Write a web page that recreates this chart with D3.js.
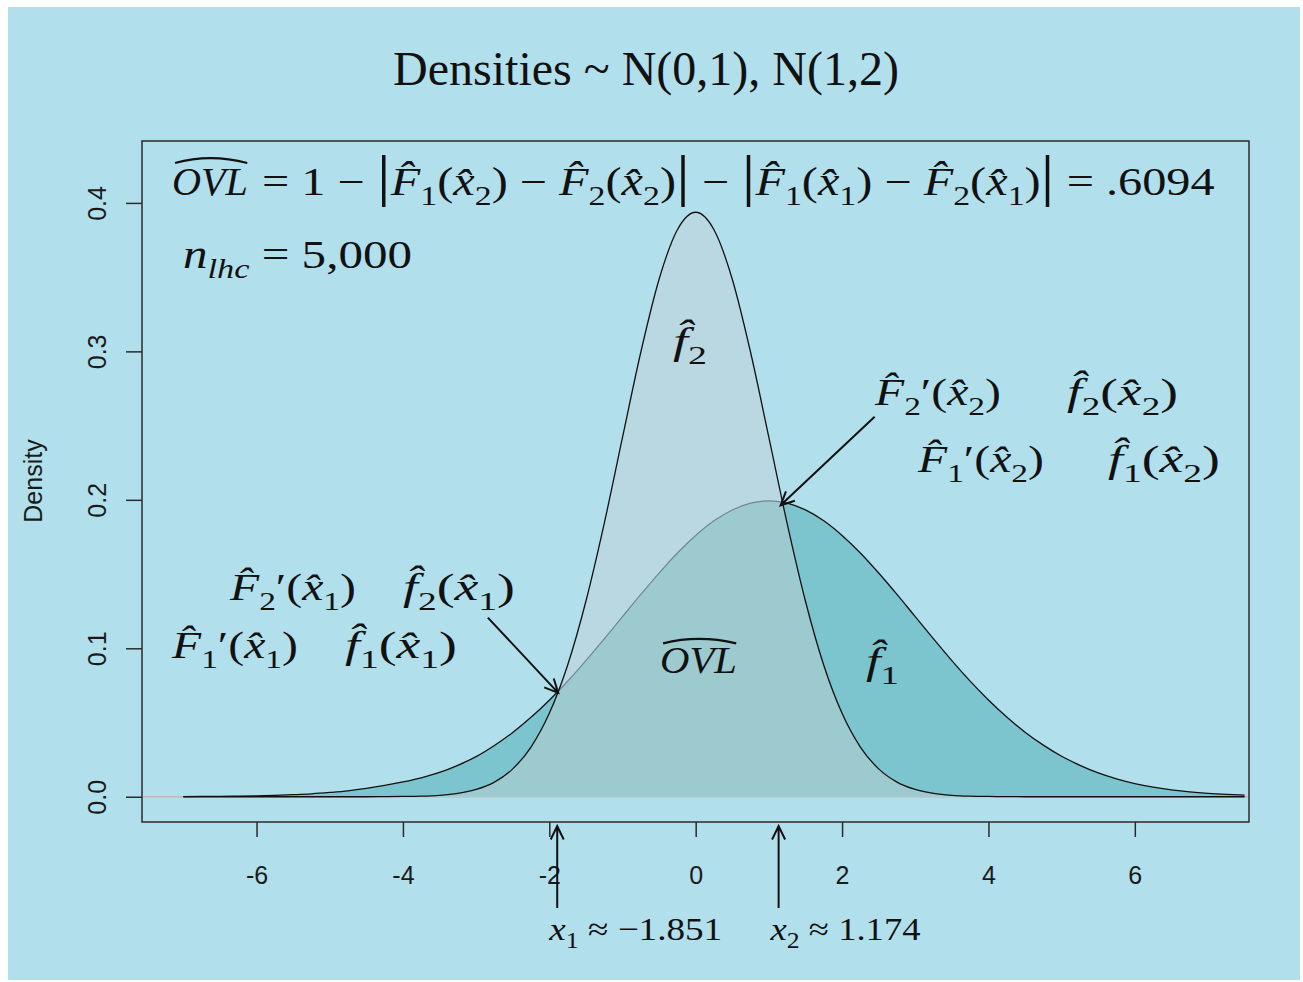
<!DOCTYPE html>
<html>
<head>
<meta charset="utf-8">
<script src="https://cdn.jsdelivr.net/npm/d3@7"></script>
<style>
  body { margin: 0; background: #fff; }
  svg { display: block; }
  text { white-space: pre; }
</style>
</head>
<body>
<div class="chart"></div>
<script>
var width = 1303;
var height = 982;

// evaluation grid for both density estimates
var gridX = [-7, -6.75, -6.5, -6.25, -6, -5.75, -5.5, -5.25, -5, -4.75, -4.5, -4.25,
             -4, -3.75, -3.5, -3.25, -3, -2.75, -2.5, -2.25, -2, -1.75, -1.5, -1.25,
             -1, -0.75, -0.5, -0.25, 0, 0.25, 0.5, 0.75, 1, 1.25, 1.5, 1.75,
             2, 2.25, 2.5, 2.75, 3, 3.25, 3.5, 3.75, 4, 4.25, 4.5, 4.75,
             5, 5.25, 5.5, 5.75, 6, 6.25, 6.5, 6.75, 7, 7.25, 7.5];

// f1 hat ~ N(1,2)
var densF1 = [0.0001, 0.0002, 0.0003, 0.0004, 0.0006, 0.0009, 0.0014, 0.0020, 0.0029, 0.0040, 0.0056, 0.0076,
              0.0100, 0.0128, 0.0164, 0.0212, 0.0270, 0.0345, 0.0433, 0.0535, 0.0650, 0.0778, 0.0917, 0.1063,
              0.1213, 0.1363, 0.1507, 0.1642, 0.1760, 0.1859, 0.1932, 0.1978, 0.1993, 0.1978, 0.1932, 0.1859,
              0.1760, 0.1642, 0.1507, 0.1363, 0.1213, 0.1063, 0.0917, 0.0779, 0.0652, 0.0537, 0.0435, 0.0348,
              0.0273, 0.0212, 0.0161, 0.0121, 0.0089, 0.0065, 0.0047, 0.0033, 0.0023, 0.0016, 0.0011];

// f2 hat ~ N(0,1)
var densF2 = [0, 0, 0, 0, 0, 0, 0, 0, 0, 0, 0, 0.0001,
              0.0002, 0.0004, 0.0010, 0.0023, 0.0049, 0.0099, 0.0188, 0.0335, 0.0562, 0.0886, 0.1317, 0.1840,
              0.2420, 0.2994, 0.3486, 0.3819, 0.3937, 0.3819, 0.3486, 0.2994, 0.2420, 0.1840, 0.1317, 0.0886,
              0.0562, 0.0335, 0.0188, 0.0099, 0.0049, 0.0023, 0.0010, 0.0004, 0.0002, 0.0001, 0, 0,
              0, 0, 0, 0, 0, 0, 0, 0, 0, 0, 0];

var xTicks = [-6, -4, -2, 0, 2, 4, 6];
var yTicks = [0, 0.1, 0.2, 0.3, 0.4];

var crossX = [-1.851, 1.174];
var crossY = [0.072, 0.199];
var crossText = ["\u22121.851", "1.174"];

var margin = {top: 141, right: 54, bottom: 160, left: 142};

var svg = d3.select(".chart")
    .append("svg")
    .attr("width", width)
    .attr("height", height);

svg.append("rect")
    .attr("x", 8).attr("y", 7)
    .attr("width", 1292).attr("height", 973)
    .attr("fill", "#b1dfec");

var x = d3.scaleLinear().domain([-7.565, 7.56]).range([margin.left, width - margin.right]);
var y = d3.scaleLinear().domain([-0.017, 0.4417]).range([height - margin.bottom, margin.top]);

var pts = gridX.map(function(v, i) { return {x: v, f1: densF1[i], f2: densF2[i]}; });

svg.append("clipPath").attr("id", "plotclip")
  .append("rect")
    .attr("x", margin.left).attr("y", margin.top)
    .attr("width", width - margin.left - margin.right)
    .attr("height", height - margin.top - margin.bottom);

var areaF1 = d3.area().x(d => x(d.x)).y0(y(0)).y1(d => y(d.f1)).curve(d3.curveMonotoneX);
var areaF2 = d3.area().x(d => x(d.x)).y0(y(0)).y1(d => y(d.f2)).curve(d3.curveMonotoneX);
var lineF1 = d3.line().x(d => x(d.x)).y(d => y(d.f1)).curve(d3.curveMonotoneX);
var lineF2 = d3.line().x(d => x(d.x)).y(d => y(d.f2)).curve(d3.curveMonotoneX);

var defs = svg.append("defs");
defs.append("clipPath").attr("id", "f1clip").append("path").attr("d", areaF1(pts));
defs.append("clipPath").attr("id", "f2clip").append("path").attr("d", areaF2(pts));

var plot = svg.append("g").attr("clip-path", "url(#plotclip)");

// zero line
plot.append("line")
    .attr("x1", margin.left).attr("x2", width - margin.right)
    .attr("y1", y(0)).attr("y2", y(0))
    .attr("stroke", "#bbbbbb").attr("stroke-width", 1.5);

plot.append("path").attr("d", areaF1(pts)).attr("fill", "#7cc4ce");
plot.append("path").attr("d", lineF1(pts)).attr("fill", "none").attr("stroke", "#111").attr("stroke-width", 1.3);
plot.append("path").attr("d", areaF2(pts)).attr("fill", "#b9d8e1");
plot.append("path").attr("d", areaF2(pts)).attr("fill", "#9ccacf").attr("clip-path", "url(#f1clip)");
plot.append("g").attr("clip-path", "url(#f2clip)")
  .append("path").attr("d", lineF1(pts)).attr("fill", "none").attr("stroke", "#6d8a90").attr("stroke-width", 1.2);
plot.append("path").attr("d", lineF2(pts)).attr("fill", "none").attr("stroke", "#111").attr("stroke-width", 1.3);

// box and axes
svg.append("rect")
    .attr("x", margin.left).attr("y", margin.top)
    .attr("width", width - margin.left - margin.right)
    .attr("height", height - margin.top - margin.bottom)
    .attr("fill", "none").attr("stroke", "#2b2b2b").attr("stroke-width", 1.5);

var xAxis = d3.axisBottom(x).tickValues(xTicks).tickSize(15).tickPadding(29).tickFormat(d3.format("d"));
var gx = svg.append("g").attr("transform", "translate(0," + (height - margin.bottom) + ")").call(xAxis);
gx.select(".domain").remove();
gx.selectAll("line").attr("stroke", "#2b2b2b").attr("stroke-width", 1.5);
gx.selectAll("text").attr("font-family", "'Liberation Sans', Arial, sans-serif")
    .attr("font-size", 25).attr("fill", "#1a1a1a").text(d => d < 0 ? "-" + Math.abs(d) : d);

var yAxis = d3.axisLeft(y).tickValues(yTicks).tickSize(16).tickFormat(d3.format(".1f"));
var gy = svg.append("g").attr("transform", "translate(" + margin.left + ",0)").call(yAxis);
gy.select(".domain").remove();
gy.selectAll("line").attr("stroke", "#2b2b2b").attr("stroke-width", 1.5);
gy.selectAll("text")
    .attr("font-family", "'Liberation Sans', Arial, sans-serif")
    .attr("font-size", 25).attr("fill", "#1a1a1a")
    .attr("x", 0).attr("dy", null).attr("y", 0)
    .attr("text-anchor", "middle")
    .attr("dominant-baseline", "central")
    .attr("transform", "translate(-45,0) rotate(-90)");

svg.append("text")
    .attr("transform", "translate(33," + 481 + ") rotate(-90)")
    .attr("text-anchor", "middle").attr("dominant-baseline", "central")
    .attr("font-family", "'Liberation Sans', Arial, sans-serif")
    .attr("font-size", 25).attr("fill", "#1a1a1a")
    .text("Density");

svg.append("text")
    .attr("x", 646).attr("y", 85)
    .attr("text-anchor", "middle")
    .attr("font-family", "'Liberation Serif', 'Times New Roman', serif")
    .attr("font-size", 48).attr("fill", "#111")
    .text("Densities ~ N(0,1), N(1,2)");

// math labels
var HAT = "\u0302";
function mathLabel(px, py, size, tokens, targetW) {
    var g = svg.append("g");
    var t = g.append("text")
        .attr("font-family", "'Liberation Serif', 'DejaVu Serif', serif")
        .attr("font-size", size).attr("fill", "#111");
    var shift = 0;
    tokens.forEach(function(tk) {
        var s = tk[1];
        var ts = t.append("tspan").text(tk[0]);
        var want = (s === "s" || s === "si") ? size * 0.26 : 0;
        if (want !== shift) { ts.attr("dy", want - shift); shift = want; }
        if (s === "i" || s === "si") ts.attr("font-style", "italic");
        if (s === "s" || s === "si") ts.attr("font-size", size * 0.7);
        if (s === "big") ts.attr("font-size", size * 1.45);
    });
    var w = t.node().getComputedTextLength();
    var sx = targetW ? targetW / w : 1;
    g.attr("transform", "translate(" + px + "," + py + ") scale(" + sx + ",1)");
    g.natural = w;
    return g;
}
function wideHat(g, size) {
    var w = g.natural;
    g.append("path")
        .attr("d", "M" + (w * 0.04) + "," + (-size * 0.8) +
                   " Q" + (w / 2) + "," + (-size * 1.04) + " " + (w * 0.99) + "," + (-size * 0.8))
        .attr("fill", "none").attr("stroke", "#111").attr("stroke-width", 2.2);
}

var fs = 40;
var ovl1 = mathLabel(172, 195, fs, [["OVL", "i"]], 76);
wideHat(ovl1, fs);

mathLabel(262, 195, fs, [
    ["= 1 \u2212 ", "r"], ["|", "big"], ["F" + HAT, "i"], ["1", "s"], ["(", "r"], ["x" + HAT, "i"], ["2", "s"],
    [") \u2212 ", "r"], ["F" + HAT, "i"], ["2", "s"], ["(", "r"], ["x" + HAT, "i"], ["2", "s"], [")", "r"], ["|", "big"],
    [" \u2212 ", "r"], ["|", "big"], ["F" + HAT, "i"], ["1", "s"], ["(", "r"], ["x" + HAT, "i"], ["1", "s"],
    [") \u2212 ", "r"], ["F" + HAT, "i"], ["2", "s"], ["(", "r"], ["x" + HAT, "i"], ["1", "s"], [")", "r"], ["|", "big"],
    [" = .6094", "r"]
], 953);

mathLabel(183, 268, fs, [["n", "i"], ["lhc", "si"], [" = 5,000", "r"]], 229);

var ls = 37;
function primeLabel(px, py, a, b, w) {
    mathLabel(px, py, ls, [["F" + HAT, "i"], [a, "s"], ["\u2032(", "r"], ["x" + HAT, "i"], [b, "s"], [")", "r"]], w);
}
function densLabel(px, py, a, b, w) {
    mathLabel(px, py, ls, [["f" + HAT, "i"], [a, "s"], ["(", "r"], ["x" + HAT, "i"], [b, "s"], [")", "r"]], w);
}
primeLabel(875, 405, "2", "2", 126);
densLabel(1067, 405, "2", "2", 111);
primeLabel(918, 472, "1", "2", 126);
densLabel(1108, 472, "1", "2", 112);
primeLabel(230, 600, "2", "1", 126);
densLabel(403, 600, "2", "1", 112);
primeLabel(172, 658, "1", "1", 126);
densLabel(345, 658, "1", "1", 112);

mathLabel(673, 354, ls, [["f" + HAT, "i"], ["2", "s"]], 34);
mathLabel(866, 674, ls, [["f" + HAT, "i"], ["1", "s"]], 33);
var ovl2 = mathLabel(660, 673, ls, [["OVL", "i"]], 77);
wideHat(ovl2, ls);

// arrows
function arrow(x0, y0, x1, y1) {
    var a = Math.atan2(y1 - y0, x1 - x0), L = 15, sp = Math.PI / 7;
    var p = d3.path();
    p.moveTo(x0, y0); p.lineTo(x1, y1);
    p.moveTo(x1 - L * Math.cos(a - sp), y1 - L * Math.sin(a - sp));
    p.lineTo(x1, y1);
    p.lineTo(x1 - L * Math.cos(a + sp), y1 - L * Math.sin(a + sp));
    svg.append("path").attr("d", p.toString()).attr("fill", "none")
        .attr("stroke", "#111").attr("stroke-width", 2);
}
arrow(x(-2.84), y(0.1207), x(crossX[0]) - 2, y(crossY[0]) + 3);
arrow(x(2.445), y(0.256), x(crossX[1]) - 1, y(crossY[1]) + 4);

var axisY = height - margin.bottom;
crossX.forEach(function(cx, i) {
    arrow(x(cx) - 3, axisY + 86, x(cx) - 3, axisY + 4);
    mathLabel(x(cx) - 11, 940, 32, [["x", "i"], [String(i + 1), "s"], [" \u2248 " + crossText[i], "r"]], i === 0 ? 173 : 150);
});
</script>
</body>
</html>
